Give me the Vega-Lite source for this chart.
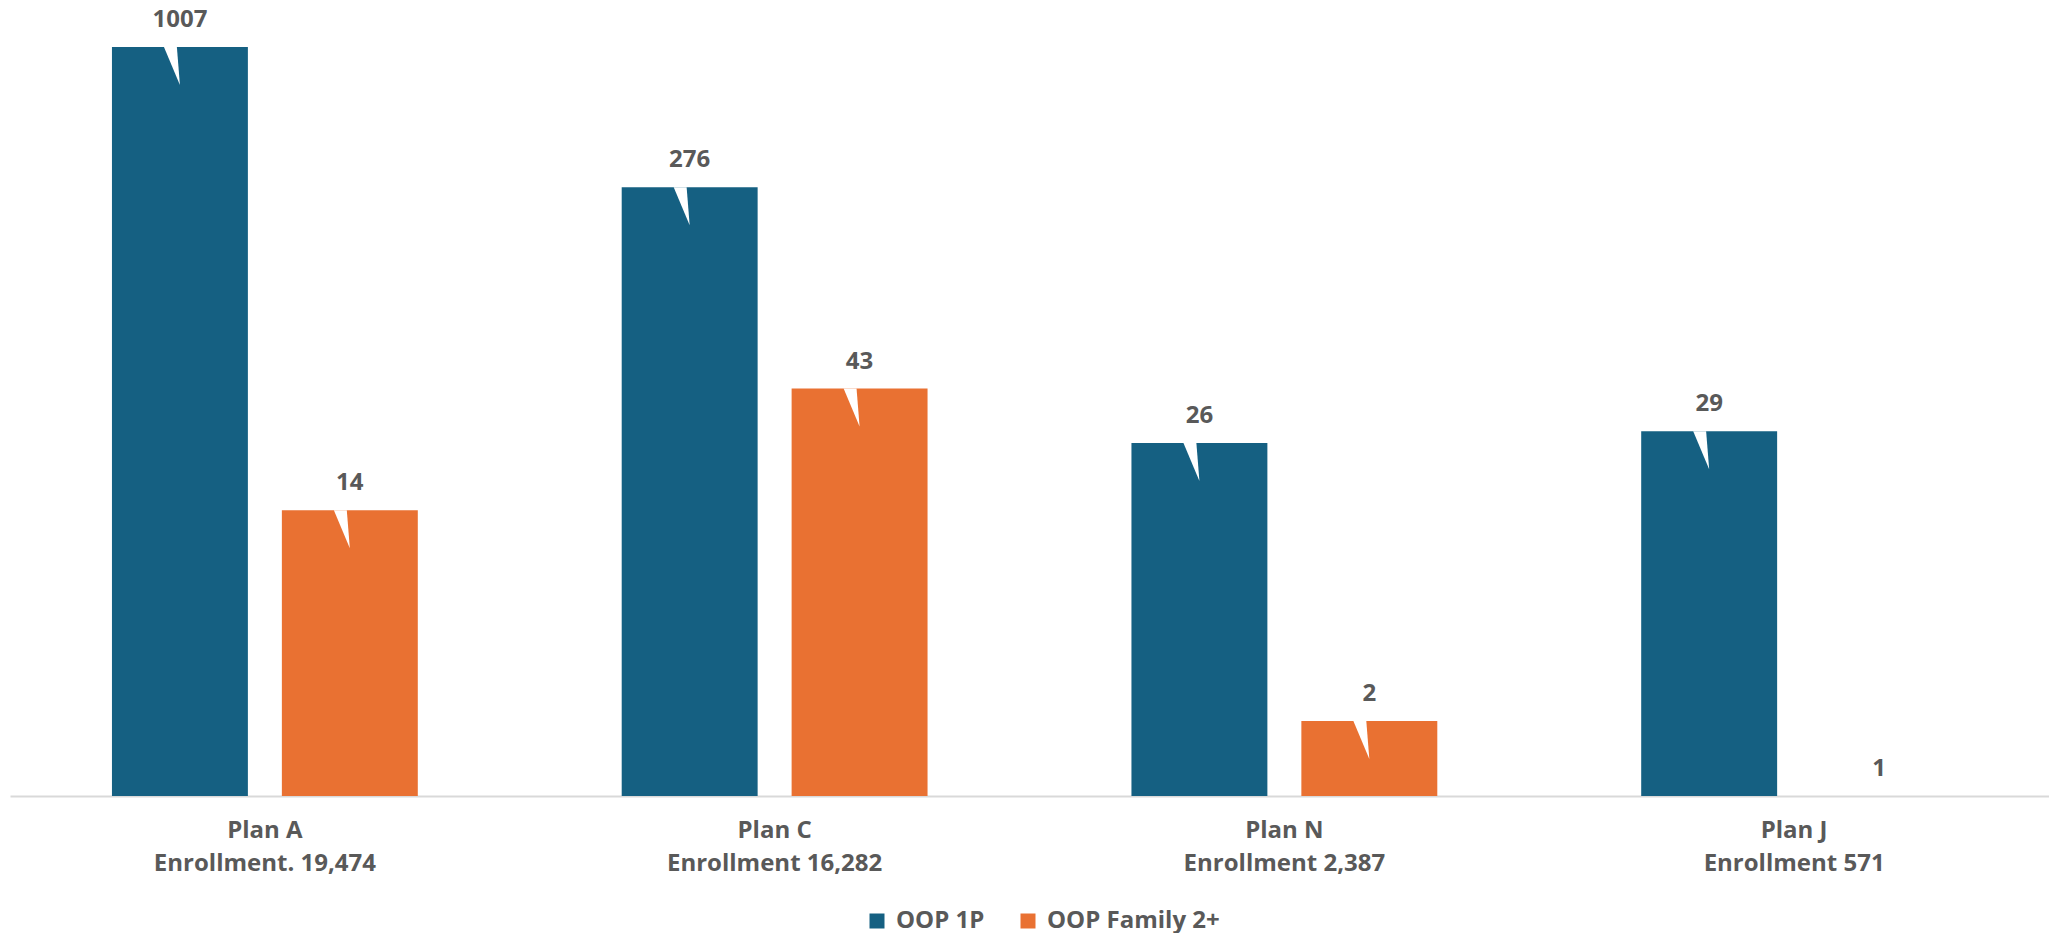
{
  "$schema": "https://vega.github.io/schema/vega-lite/v6.json",
  "width": 2039,
  "height": 796,
  "padding": {"left": 10, "top": 0, "right": 0, "bottom": 0},
  "autosize": {"type": "pad"},
  "background": "white",
  "config": {"view": {"stroke": null}, "font": "Open Sans"},
  "data": {
    "values": [
      {"plan": "Plan A|Enrollment.  19,474", "series": "OOP 1P", "value": 1007},
      {"plan": "Plan A|Enrollment.  19,474", "series": "OOP Family 2+", "value": 14},
      {"plan": "Plan C|Enrollment 16,282", "series": "OOP 1P", "value": 276},
      {"plan": "Plan C|Enrollment 16,282", "series": "OOP Family 2+", "value": 43},
      {"plan": "Plan N|Enrollment 2,387", "series": "OOP 1P", "value": 26},
      {"plan": "Plan N|Enrollment 2,387", "series": "OOP Family 2+", "value": 2},
      {"plan": "Plan J|Enrollment 571", "series": "OOP 1P", "value": 29},
      {"plan": "Plan J|Enrollment 571", "series": "OOP Family 2+", "value": 1}
    ]
  },
  "encoding": {
    "x": {
      "field": "plan",
      "type": "nominal",
      "sort": null,
      "scale": {"paddingInner": 0.4, "paddingOuter": 0.2},
      "axis": {
        "title": null,
        "labelAngle": 0,
        "ticks": false,
        "domainColor": "#d9d9d9",
        "domainWidth": 2,
        "labelFont": "Open Sans",
        "labelFontSize": 24,
        "labelFontWeight": "bold",
        "labelColor": "#595959",
        "labelPadding": 22,
        "labelLineHeight": 33,
        "labelLimit": 0,
        "labelExpr": "split(datum.label, '|')"
      }
    },
    "xOffset": {
      "field": "series",
      "type": "nominal",
      "sort": ["OOP 1P", "OOP Family 2+"],
      "scale": {"paddingInner": 0.2, "paddingOuter": 0}
    },
    "y": {
      "field": "value",
      "type": "quantitative",
      "scale": {"type": "log", "domain": [1, 1555]},
      "axis": null
    }
  },
  "layer": [
    {
      "mark": {"type": "bar"},
      "encoding": {
        "y2": {"datum": 1},
        "color": {
          "field": "series",
          "type": "nominal",
          "scale": {"domain": ["OOP 1P", "OOP Family 2+"], "range": ["#156082", "#E97132"]},
          "legend": {
            "orient": "none",
            "legendX": 855,
            "legendY": 909,
            "direction": "horizontal",
            "title": null,
            "padding": 0,
            "symbolType": "square",
            "symbolSize": 225,
            "symbolStrokeWidth": 0,
            "labelFont": "Open Sans",
            "labelFontSize": 24,
            "labelFontWeight": "bold",
            "labelColor": "#595959",
            "labelLimit": 0,
            "columnPadding": 31,
            "labelOffset": 7
          }
        }
      }
    },
    {
      "transform": [{"filter": "datum.value > 1"}],
      "mark": {
        "type": "point",
        "shape": "M -0.84 -1 L -0.16 -1 L 0 1 Z",
        "size": 1444,
        "filled": true,
        "color": "white",
        "opacity": 1,
        "strokeWidth": 0,
        "yOffset": 19
      }
    },
    {
      "mark": {
        "type": "text",
        "dy": -20,
        "baseline": "alphabetic",
        "font": "Open Sans",
        "fontSize": 24,
        "fontWeight": "bold",
        "color": "#595959"
      },
      "encoding": {"text": {"field": "value", "type": "quantitative"}}
    }
  ]
}
